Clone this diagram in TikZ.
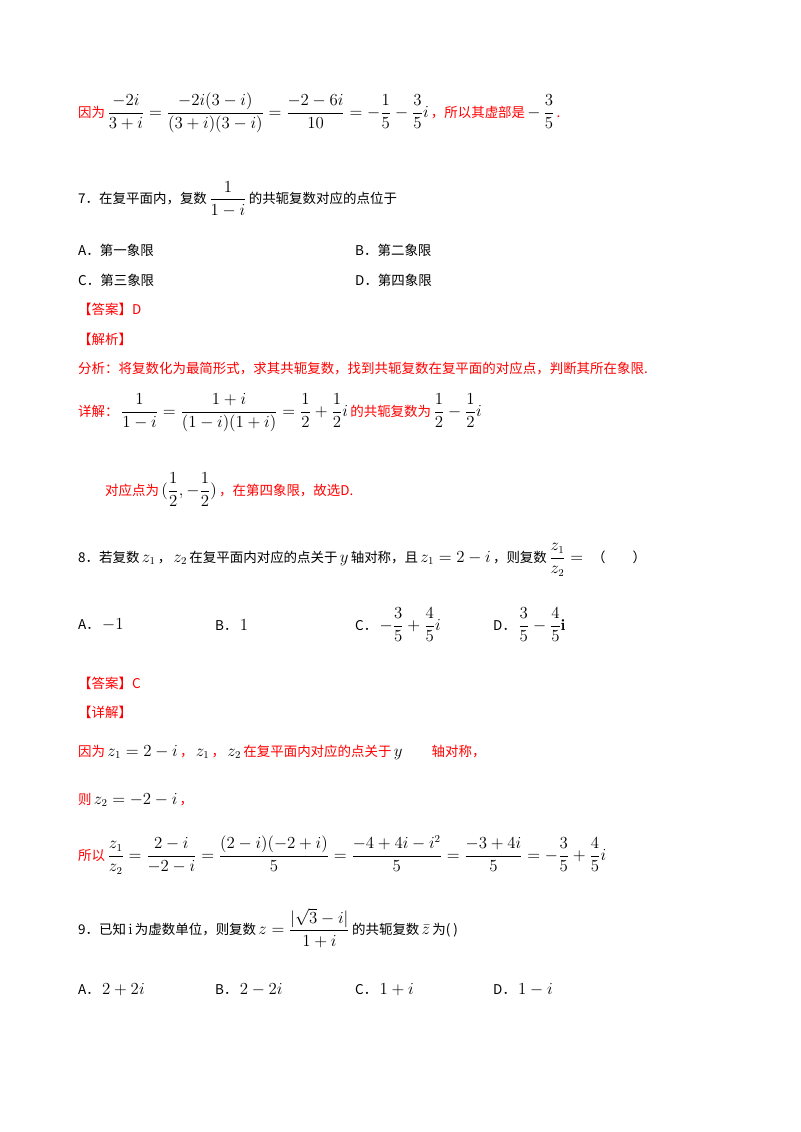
\documentclass[tikz,border=0pt]{standalone}
\usepackage{amsmath}
\usepackage{fontspec}
\newfontfamily\cjk{Noto Sans CJK SC}
\usetikzlibrary{positioning}
\definecolor{ansred}{RGB}{255,0,0}
\tikzset{ ln/.style = { anchor = west
                      , inner sep = 0pt
                      , font = \fontsize{11.5}{14}\selectfont\cjk
                      },
          rd/.style = { ln
                      , text = ansred
                      }
        }
\newcommand{\mth}[1]{\,{\normalfont\fontsize{13.5}{16}\selectfont\color{black}$\displaystyle #1$}\,}
\begin{document}
\begin{tikzpicture}[x=0.03cm,y=-0.03cm]
  \useasboundingbox (0,0) rectangle (800,1132);
  % question 6 tail
  \node[rd] (q6) at (78,113) {因为\mth{\frac{-2i}{3+i}=\frac{-2i(3-i)}{(3+i)(3-i)}=\frac{-2-6i}{10}=-\frac{1}{5}-\frac{3}{5}i}，所以其虚部是\mth{-\,\frac{3}{5}}.};
  % question 7
  \node[ln] (q7) at (78,199) {7．在复平面内，复数\mth{\frac{1}{1-i}}的共轭复数对应的点位于};
  \node[ln] (q7a) at (78,250) {A．第一象限};
  \node[ln] (q7b) at (355,250) {B．第二象限};
  \node[ln] (q7c) at (78,280) {C．第三象限};
  \node[ln] (q7d) at (355,280) {D．第四象限};
  \node[rd] (ans7) at (78,309) {【答案】D};
  \node[rd] (jx7) at (78,339) {【解析】};
  \node[rd] (fx7) at (78,369) {分析：将复数化为最简形式，求其共轭复数，找到共轭复数在复平面的对应点，判断其所在象限.};
  \node[rd] (xj7) at (78,413) {详解：\mth{\frac{1}{1-i}=\frac{1+i}{(1-i)(1+i)}=\frac{1}{2}+\frac{1}{2}i}的共轭复数为\mth{\frac{1}{2}-\frac{1}{2}i}};
  \node[rd] (pt7) at (105,490) {对应点为\mth{(\frac{1}{2},-\frac{1}{2})}，在第四象限，故选D.};
  % question 8
  \node[ln] (q8) at (78,560) {8．若复数\mth{z_1}，\mth{z_2}在复平面内对应的点关于\mth{y}轴对称，且\mth{z_1=2-i}，则复数\mth{\frac{z_1}{z_2}=}\enspace（\qquad）};
  \node[ln] (q8a) at (78,625) {A．\mth{-1}};
  \node[ln] (q8b) at (215,625) {B．\mth{1}};
  \node[ln] (q8c) at (355,625) {C．\mth{-\frac{3}{5}+\frac{4}{5}i}};
  \node[ln] (q8d) at (493,625) {D．\mth{\frac{3}{5}-\frac{4}{5}\mathbf{i}}};
  \node[rd] (ans8) at (78,683) {【答案】C};
  \node[rd] (xj8) at (78,712) {【详解】};
  \node[rd] (s81) at (78,752) {因为\mth{z_1=2-i}，\mth{z_1}，\mth{z_2}在复平面内对应的点关于\mth{y}\qquad 轴对称，};
  \node[rd] (s82) at (78,800) {则\mth{z_2=-2-i}，};
  \node[rd] (s83) at (78,855) {所以\mth{\frac{z_1}{z_2}=\frac{2-i}{-2-i}=\frac{(2-i)(-2+i)}{5}=\frac{-4+4i-i^2}{5}=\frac{-3+4i}{5}=-\frac{3}{5}+\frac{4}{5}i}};
  % question 9
  \node[ln] (q9) at (78,928) {9．已知\mth{\mathrm{i}}为虚数单位，则复数\mth{z=\frac{|\sqrt{3}-i|}{1+i}}的共轭复数\mth{\bar z}为( )};
  \node[ln] (q9a) at (78,990) {A．\mth{2+2i}};
  \node[ln] (q9b) at (215,990) {B．\mth{2-2i}};
  \node[ln] (q9c) at (355,990) {C．\mth{1+i}};
  \node[ln] (q9d) at (493,990) {D．\mth{1-i}};
\end{tikzpicture}
\end{document}
